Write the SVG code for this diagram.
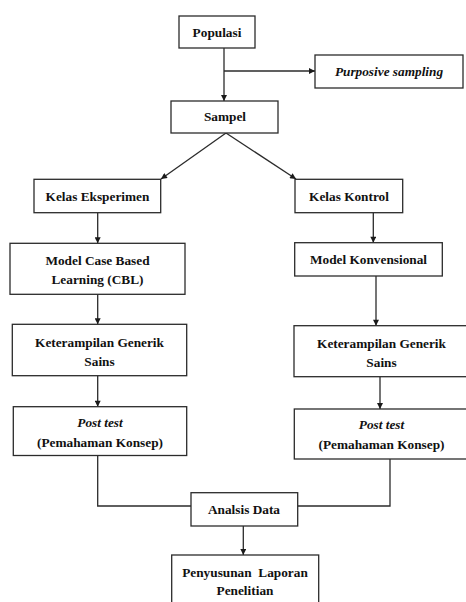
<svg xmlns="http://www.w3.org/2000/svg" width="466" height="602" viewBox="0 0 466 602">
<defs>
<style>
.box{fill:#fff;stroke:#2b2b2b;stroke-width:1.3}
.t{font-family:"Liberation Serif","Times New Roman",serif;font-weight:bold;font-size:13.3px;fill:#111;text-anchor:middle}
.i{font-style:italic}
.c{fill:none;stroke:#2b2b2b;stroke-width:1.3}
</style>
<marker id="ah" viewBox="0 0 10 10" refX="10" refY="5" markerWidth="7" markerHeight="6" markerUnits="userSpaceOnUse" orient="auto">
<path d="M0,0 L10,5 L0,10 z" fill="#1a1a1a"/>
</marker>
</defs>
<rect width="466" height="602" fill="#fff"/>
<g id="connectors">
<path class="c" d="M224,48 V101" marker-end="url(#ah)"/>
<path class="c" d="M224,71 H315" marker-end="url(#ah)"/>
<path class="c" d="M226,133 L161,179" marker-end="url(#ah)"/>
<path class="c" d="M226,133 L296,179" marker-end="url(#ah)"/>
<path class="c" d="M97.7,212.7 V243.3" marker-end="url(#ah)"/>
<path class="c" d="M97.7,294.3 V324.3" marker-end="url(#ah)"/>
<path class="c" d="M97.7,375.7 V406.7" marker-end="url(#ah)"/>
<path class="c" d="M373.3,212.7 V242.7" marker-end="url(#ah)"/>
<path class="c" d="M376,276 V325.7" marker-end="url(#ah)"/>
<path class="c" d="M380,376.7 V409" marker-end="url(#ah)"/>
<path class="c" d="M97.7,455.5 V506 H191"/>
<path class="c" d="M390,459 V506 H297.7"/>
<path class="c" d="M243.3,526 V555" marker-end="url(#ah)"/>
</g>
<g id="populasi">
<rect class="box" x="179" y="16" width="76" height="32"/>
<text class="t" x="217" y="36.5">Populasi</text>
</g>
<g id="purposive">
<rect class="box" x="315" y="55" width="148" height="33"/>
<text class="t i" x="389" y="75.5">Purposive sampling</text>
</g>
<g id="sampel">
<rect class="box" x="171" y="101" width="107" height="32"/>
<text class="t" x="225" y="120.5">Sampel</text>
</g>
<g id="kelas-eksperimen">
<rect class="box" x="34" y="179.3" width="126.7" height="33.4"/>
<text class="t" x="97.5" y="200.5">Kelas Eksperimen</text>
</g>
<g id="kelas-kontrol">
<rect class="box" x="295" y="179.3" width="107.7" height="33.4"/>
<text class="t" x="349" y="200.5">Kelas Kontrol</text>
</g>
<g id="model-cbl">
<rect class="box" x="10" y="243.3" width="175" height="51"/>
<text class="t" x="97.5" y="264.5">Model Case Based</text>
<text class="t" x="97.5" y="284">Learning (CBL)</text>
</g>
<g id="model-konvensional">
<rect class="box" x="294.7" y="242.7" width="147.6" height="33.3"/>
<text class="t" x="368.5" y="264">Model Konvensional</text>
</g>
<g id="kgs-kiri">
<rect class="box" x="12.3" y="324.3" width="174.4" height="51.4"/>
<text class="t" x="99.5" y="346.5">Keterampilan Generik</text>
<text class="t" x="99.5" y="365.5">Sains</text>
</g>
<g id="kgs-kanan">
<rect class="box" x="294" y="325.7" width="174" height="51"/>
<text class="t" x="381.5" y="348">Keterampilan Generik</text>
<text class="t" x="381.5" y="367">Sains</text>
</g>
<g id="posttest-kiri">
<rect class="box" x="13.3" y="406.7" width="173.4" height="48.8"/>
<text class="t" x="100" y="426.5"><tspan class="i">Post test</tspan></text>
<text class="t" x="100" y="446.5">(Pemahaman Konsep)</text>
</g>
<g id="posttest-kanan">
<rect class="box" x="294.3" y="409" width="174" height="50"/>
<text class="t" x="381.5" y="429"><tspan class="i">Post test</tspan></text>
<text class="t" x="381.5" y="449">(Pemahaman Konsep)</text>
</g>
<g id="analisis-data">
<rect class="box" x="191" y="492.7" width="106.7" height="33.3"/>
<text class="t" x="244" y="513.5">Analsis Data</text>
</g>
<g id="penyusunan">
<rect class="box" x="171.7" y="555" width="147" height="52"/>
<text class="t" x="245" y="577" xml:space="preserve">Penyusunan  Laporan</text>
<text class="t" x="245" y="595">Penelitian</text>
</g>
</svg>
